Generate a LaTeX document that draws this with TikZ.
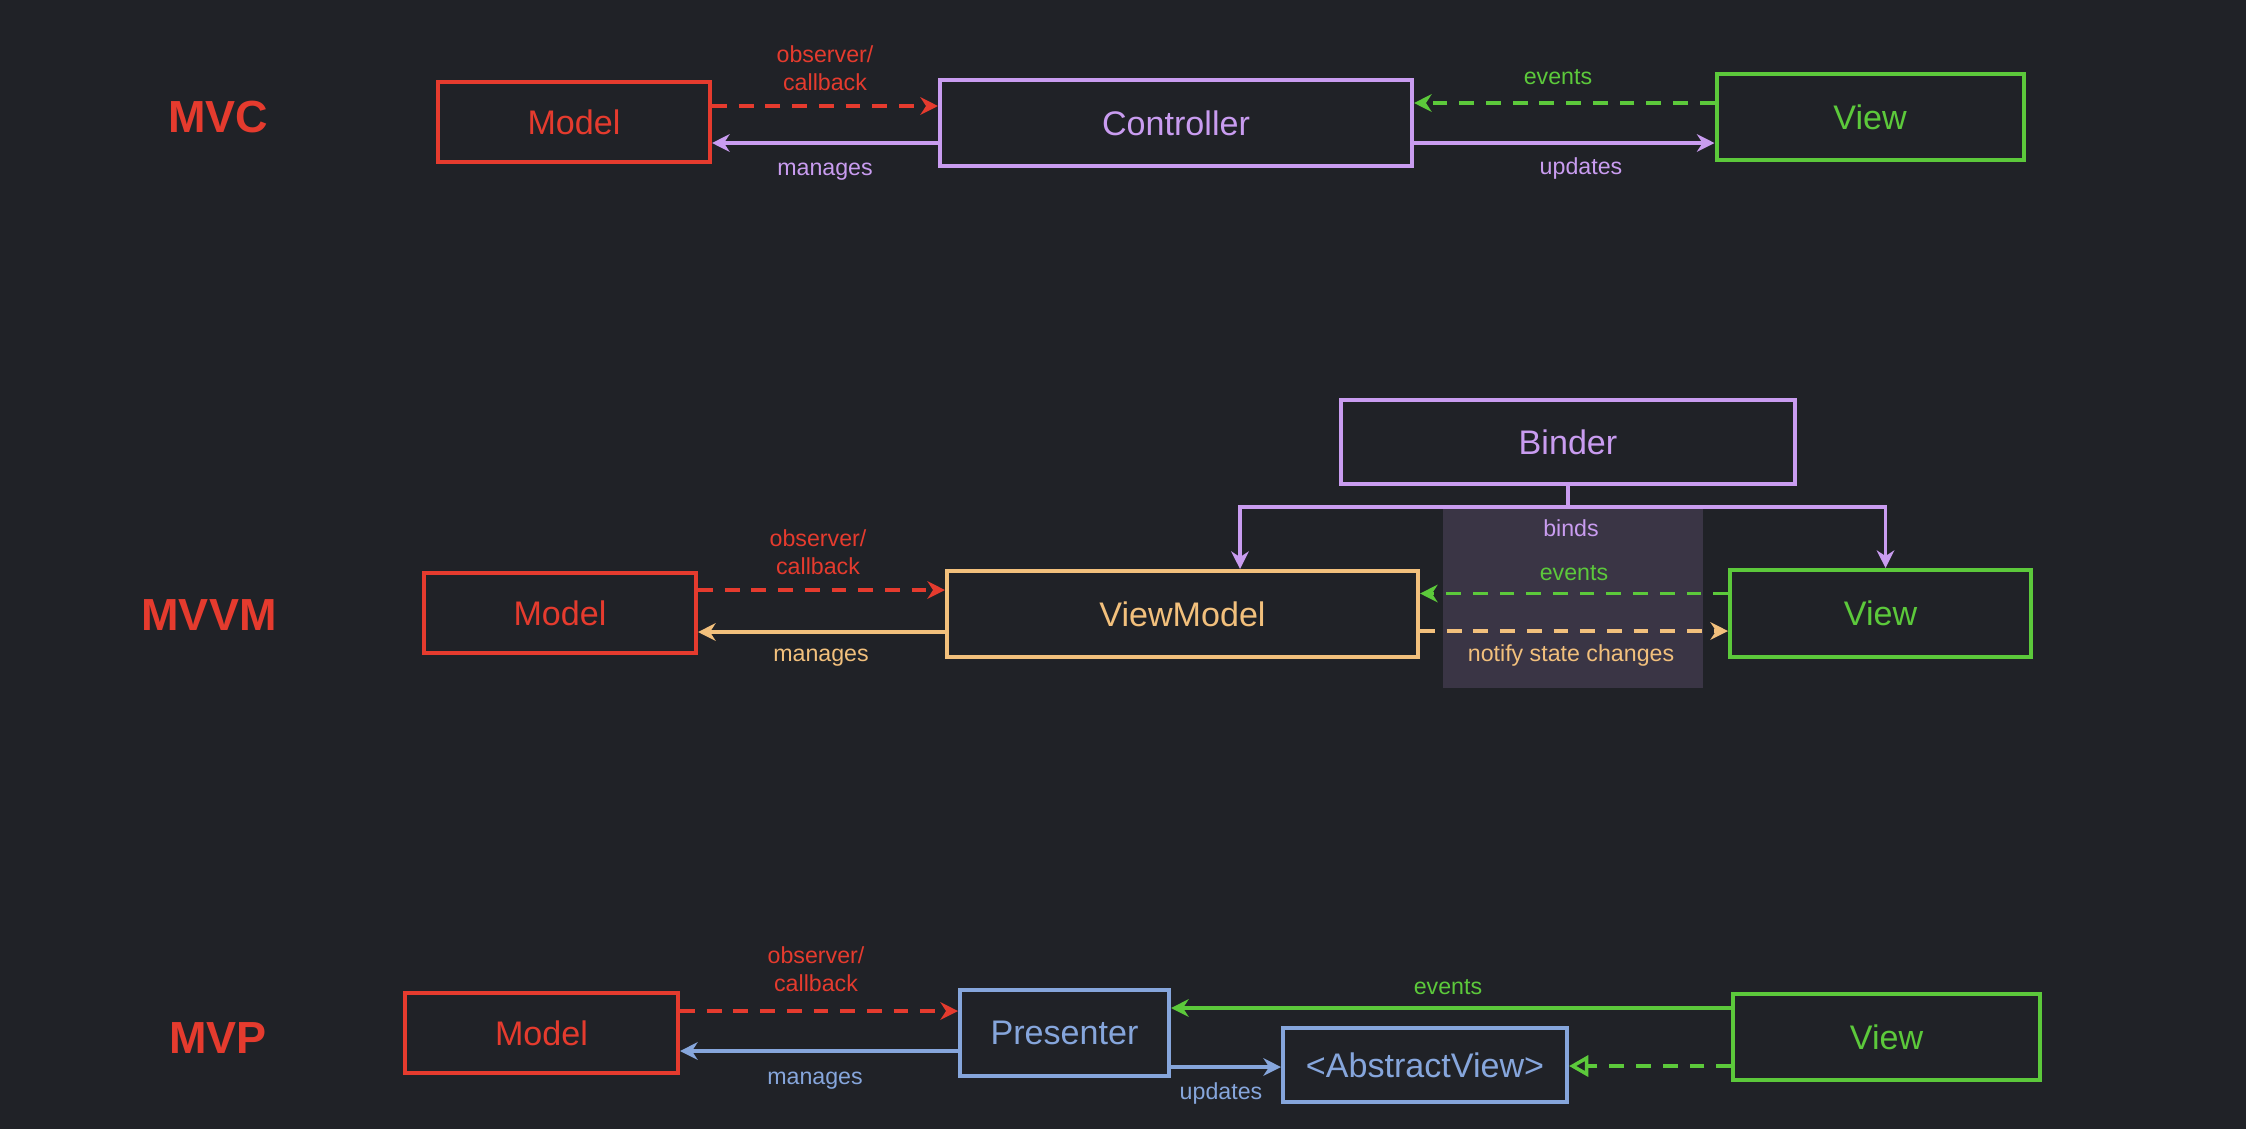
\documentclass[tikz,border=0pt]{standalone}
\usepackage{fontspec}
\setmainfont{Liberation Sans}
\usetikzlibrary{arrows.meta}
\definecolor{bgc}{HTML}{202227}
\definecolor{shadec}{HTML}{3A3545}
\definecolor{mred}{HTML}{E53B2E}
\definecolor{mpurple}{HTML}{C99CF0}
\definecolor{mgreen}{HTML}{5CC93B}
\definecolor{morange}{HTML}{F2C07C}
\definecolor{mblue}{HTML}{86A6DC}
\begin{document}
\begin{tikzpicture}[box/.style = {draw, line width=1.15pt, font=\fontsize{9.7}{11}\selectfont},
    ttl/.style = {font=\fontsize{12.8}{14}\selectfont\bfseries, mred},
    lbl/.style = {font=\fontsize{6.6}{7.8}\selectfont, align=center},
    arr/.style = {line width=1pt, -{Stealth[length=5pt,width=5pt,inset=1.6pt]}},
    dsh/.style = {arr, dash pattern=on 4.2pt off 3.4pt},
    real/.style = {line width=1pt, dash pattern=on 4.2pt off 3.4pt, -{Triangle[open,length=5.5pt,width=6pt]}}]

      \useasboundingbox (0,0) rectangle (22.46,-11.28);
      \fill[bgc] (-0.1,0.1) rectangle (22.56,-11.38);

      % MVC
      \node[ttl] (mvc) at (2.18,-1.17) {MVC};
      \node[box, mred, minimum width=2.72cm, minimum height=0.80cm] (model1) at (5.74,-1.22) {Model};
      \node[box, mpurple, minimum width=4.72cm, minimum height=0.86cm] (ctrl) at (11.76,-1.23) {Controller};
      \node[box, mgreen, minimum width=3.07cm, minimum height=0.86cm] (view1) at (18.70,-1.17) {View};
      \draw[dsh, mred] ([yshift=1.6mm]model1.east) -- ([yshift=1.6mm]model1.east -| ctrl.west);
      \draw[arr, mpurple] ([yshift=-2mm]ctrl.west) -- ([yshift=-2mm]ctrl.west -| model1.east);
      \draw[dsh, mgreen] ([yshift=1.4mm]view1.west) -- ([yshift=1.4mm]view1.west -| ctrl.east);
      \draw[arr, mpurple] ([yshift=-2mm]ctrl.east) -- ([yshift=-2mm]ctrl.east -| view1.west);
      \node[lbl, mred] (cb1) at (8.25,-0.68) {observer/\\callback};
      \node[lbl, mpurple] (mg1) at (8.25,-1.72) {manages};
      \node[lbl, mgreen] (ev1) at (15.58,-0.77) {events};
      \node[lbl, mpurple] (up1) at (15.81,-1.68) {updates};

      % MVVM
      \fill[shadec] (14.43,-5.08) rectangle (17.03,-6.88);
      \node[ttl] (mvvm) at (2.09,-6.15) {MVVM};
      \node[box, mpurple, minimum width=4.54cm, minimum height=0.84cm] (binder) at (15.68,-4.42) {Binder};
      \node[box, mred, minimum width=2.72cm, minimum height=0.80cm] (model2) at (5.60,-6.13) {Model};
      \node[box, morange, minimum width=4.71cm, minimum height=0.86cm] (vm) at (11.825,-6.14) {ViewModel};
      \node[box, mgreen, minimum width=3.01cm, minimum height=0.87cm] (view2) at (18.805,-6.135) {View};
      \coordinate (bj) at (15.68,-5.07);
      \draw[arr, mpurple] (binder.south) -- (bj) -| ([xshift=5.75mm]vm.north);
      \draw[arr, mpurple] (bj) -| ([xshift=0.5mm]view2.north);
      \draw[dsh, mred] ([yshift=2.3mm]model2.east) -- ([yshift=2.3mm]model2.east -| vm.west);
      \draw[arr, morange] ([yshift=-1.8mm]vm.west) -- ([yshift=-1.8mm]vm.west -| model2.east);
      \draw[dsh, mgreen] ([yshift=2mm]view2.west) -- ([yshift=2mm]view2.west -| vm.east);
      \draw[dsh, morange] ([yshift=-1.7mm]vm.east) -- ([yshift=-1.7mm]vm.east -| view2.west);
      \node[lbl, mred] (cb2) at (8.18,-5.52) {observer/\\callback};
      \node[lbl, morange] (mg2) at (8.21,-6.58) {manages};
      \node[lbl, mpurple] (bd) at (15.71,-5.28) {binds};
      \node[lbl, mgreen] (ev2) at (15.74,-5.73) {events};
      \node[lbl, morange] (ns) at (15.71,-6.55) {notify state changes};

      % MVP
      \node[ttl] (mvp) at (2.18,-10.38) {MVP};
      \node[box, mred, minimum width=2.73cm, minimum height=0.80cm] (model3) at (5.415,-10.33) {Model};
      \node[box, mblue, minimum width=2.09cm, minimum height=0.86cm] (pres) at (10.645,-10.33) {Presenter};
      \node[box, mblue, minimum width=2.84cm, minimum height=0.74cm] (absv) at (14.25,-10.65) {<AbstractView>};
      \node[box, mgreen, minimum width=3.07cm, minimum height=0.86cm] (view3) at (18.865,-10.37) {View};
      \draw[dsh, mred] ([yshift=2.2mm]model3.east) -- ([yshift=2.2mm]model3.east -| pres.west);
      \draw[arr, mblue] ([yshift=-1.8mm]pres.west) -- ([yshift=-1.8mm]pres.west -| model3.east);
      \draw[arr, mgreen] ([yshift=2.9mm]view3.west) -- ([yshift=2.9mm]view3.west -| pres.east);
      \draw[arr, mblue] ([yshift=-3.4mm]pres.east) -- ([yshift=-3.4mm]pres.east -| absv.west);
      \draw[real, mgreen] ([yshift=-2.9mm]view3.west) -- ([yshift=-2.9mm]view3.west -| absv.east);
      \node[lbl, mred] (cb3) at (8.16,-9.69) {observer/\\callback};
      \node[lbl, mblue] (mg3) at (8.15,-10.81) {manages};
      \node[lbl, mgreen] (ev3) at (14.48,-9.87) {events};
      \node[lbl, mblue] (up3) at (12.21,-10.93) {updates};

    \end{tikzpicture}
\end{document}
